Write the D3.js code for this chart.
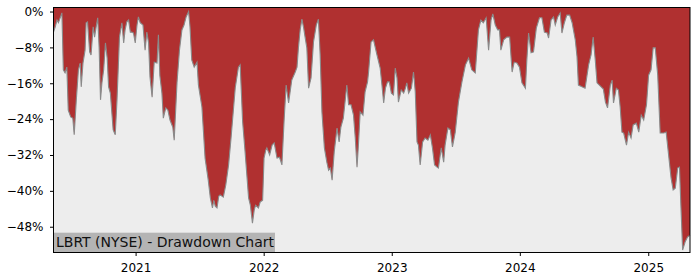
<!DOCTYPE html>
<html>
<head>
<meta charset="utf-8">
<script src="https://cdn.jsdelivr.net/npm/d3@7"></script>
<style>
  body { margin: 0; background: #fff; }
  svg { display: block; font-family: "DejaVu Sans", sans-serif; }
</style>
</head>
<body>
<svg id="chart" width="700" height="280"></svg>
<script>
// drawdown of LBRT (percent below running peak)
const dates = [
  "2020-05-12","2020-05-17","2020-05-22","2020-05-26","2020-06-01","2020-06-05","2020-06-09","2020-06-14","2020-06-19","2020-06-23",
  "2020-06-30","2020-07-06","2020-07-10","2020-07-16","2020-07-22","2020-07-27","2020-07-30","2020-08-04","2020-08-10","2020-08-13",
  "2020-08-17","2020-08-23","2020-08-27","2020-09-02","2020-09-06","2020-09-10","2020-09-15","2020-09-19","2020-09-23","2020-09-27",
  "2020-10-02","2020-10-07","2020-10-12","2020-10-16","2020-10-21","2020-10-29","2020-11-04","2020-11-09","2020-11-16","2020-11-23",
  "2020-11-28","2020-12-02","2020-12-07","2020-12-12","2020-12-17","2020-12-21","2020-12-26","2020-12-31",
  "2021-01-05","2021-01-09","2021-01-14","2021-01-22","2021-01-28","2021-02-02","2021-02-07","2021-02-11","2021-02-17","2021-02-23",
  "2021-03-03","2021-03-07","2021-03-11","2021-03-17","2021-03-21","2021-03-28","2021-04-03","2021-04-09","2021-04-17","2021-04-21",
  "2021-04-29","2021-05-06","2021-05-13","2021-05-19","2021-05-25","2021-06-01","2021-06-05","2021-06-10","2021-06-17","2021-06-25",
  "2021-06-29","2021-07-09","2021-07-18","2021-07-27","2021-08-02","2021-08-08","2021-08-12","2021-08-16","2021-08-21","2021-08-26",
  "2021-08-30","2021-09-08","2021-09-15","2021-09-23","2021-09-30","2021-10-12","2021-10-21","2021-10-26","2021-11-02","2021-11-09",
  "2021-11-19","2021-11-24","2021-11-30","2021-12-05","2021-12-09","2021-12-17","2021-12-22","2021-12-29",
  "2022-01-02","2022-01-07","2022-01-10","2022-01-18","2022-01-25","2022-01-31","2022-02-08","2022-02-15","2022-02-22","2022-02-28",
  "2022-03-06","2022-03-13","2022-03-22","2022-04-01","2022-04-06","2022-04-10","2022-04-15","2022-04-20","2022-04-25","2022-04-29",
  "2022-05-04","2022-05-09","2022-05-16","2022-05-23","2022-05-31","2022-06-06","2022-06-11","2022-06-16","2022-06-23","2022-06-30",
  "2022-07-05","2022-07-10","2022-07-15","2022-07-21","2022-07-29","2022-08-04","2022-08-09","2022-08-16","2022-08-26","2022-08-31",
  "2022-09-07","2022-09-14","2022-09-19","2022-09-24","2022-09-28","2022-10-03","2022-10-11","2022-10-17","2022-10-24","2022-10-27",
  "2022-11-03","2022-11-10","2022-11-20","2022-11-29","2022-12-04","2022-12-09","2022-12-14","2022-12-20","2022-12-25","2022-12-31",
  "2023-01-06","2023-01-11","2023-01-16","2023-01-20","2023-01-28","2023-02-04","2023-02-09","2023-02-13","2023-02-18","2023-02-26",
  "2023-03-04","2023-03-09","2023-03-14","2023-03-18","2023-03-23","2023-03-30","2023-04-06","2023-04-14","2023-04-21","2023-04-27",
  "2023-05-03","2023-05-10","2023-05-14","2023-05-22","2023-05-29","2023-06-02","2023-06-10","2023-06-17","2023-06-23","2023-07-01",
  "2023-07-10","2023-07-20","2023-07-30","2023-08-08","2023-08-17","2023-08-27","2023-09-05","2023-09-12","2023-09-19","2023-09-27",
  "2023-10-04","2023-10-11","2023-10-16","2023-10-23","2023-10-30","2023-11-04","2023-11-08","2023-11-16","2023-11-25","2023-12-03",
  "2023-12-10","2023-12-16","2023-12-24","2023-12-31",
  "2024-01-07","2024-01-17","2024-01-21","2024-01-26","2024-02-02","2024-02-09","2024-02-17","2024-02-26","2024-03-04","2024-03-11",
  "2024-03-19","2024-03-23","2024-03-30","2024-04-06","2024-04-11","2024-04-18","2024-04-25","2024-04-30","2024-05-07","2024-05-14",
  "2024-05-22","2024-05-29","2024-06-07","2024-06-12","2024-06-16","2024-06-26","2024-07-05","2024-07-15","2024-07-22","2024-07-28",
  "2024-08-03","2024-08-08","2024-08-17","2024-08-26","2024-09-01","2024-09-07","2024-09-15","2024-09-20","2024-09-24","2024-10-02",
  "2024-10-08","2024-10-13","2024-10-18","2024-10-23","2024-10-31","2024-11-06","2024-11-13","2024-11-19","2024-11-28","2024-12-05",
  "2024-12-12","2024-12-19","2024-12-27",
  "2025-01-02","2025-01-09","2025-01-15","2025-01-21","2025-01-28","2025-02-04","2025-02-14","2025-02-21","2025-02-28","2025-03-07",
  "2025-03-13","2025-03-19","2025-03-26","2025-03-31","2025-04-04","2025-04-09","2025-04-16","2025-04-23","2025-04-30"
];

const drawdown = [
  -4.6,-3.4,-1.9,-2.5,-1.2,-0.3,-13.0,-13.7,-12.4,-22.0,
  -23.5,-23.8,-27.5,-19.7,-13.0,-11.5,-16.8,-11.5,-8.6,-2.5,
  -2.3,-9.0,-9.7,-3.4,-5.7,-3.7,-1.4,-7.9,-19.7,-15.9,
  -13.0,-7.0,-10.4,-16.8,-18.2,-26.4,-27.5,-19.7,-5.7,-2.5,
  -7.0,-4.1,-2.3,-1.9,-4.6,-4.6,-4.8,-7.0,
  -3.0,-1.2,-2.5,-3.0,-8.6,-4.6,-7.0,-14.6,-19.1,-11.3,
  -11.5,-5.2,-14.2,-18.2,-23.8,-21.5,-22.0,-24.2,-25.8,-28.7,
  -15.9,-8.6,-4.1,-3.0,-1.2,0,-3.4,-10.8,-12.4,-11.3,
  -16.4,-21.3,-32.7,-37.6,-41.6,-43.8,-42.1,-43.4,-43.8,-41.2,
  -40.9,-41.4,-38.7,-34.2,-28.2,-17.0,-12.4,-11.9,-24.6,-31.3,
  -41.6,-43.2,-47.2,-44.3,-43.2,-43.8,-42.5,-42.1,
  -32.7,-30.9,-30.4,-32.0,-29.8,-29.3,-32.7,-32.5,-34.2,-24.6,
  -16.4,-20.4,-15.3,-13.5,-12.4,-8.1,-4.1,-1.7,-3.7,-5.7,
  -8.1,-17.1,-14.8,-6.8,-3.0,-1.7,-9.7,-22.4,-30.4,-33.6,
  -35.4,-34.9,-37.6,-31.3,-26.0,-29.1,-25.8,-23.8,-16.4,-20.8,
  -20.8,-23.1,-28.2,-34.7,-29.8,-22.4,-23.1,-17.9,-15.7,-13.5,
  -6.8,-6.3,-9.7,-12.6,-16.4,-20.4,-17.1,-15.7,-15.7,-18.2,
  -18.6,-12.6,-14.8,-20.2,-17.5,-18.2,-17.1,-15.9,-18.2,-17.1,
  -13.5,-17.9,-29.1,-29.8,-34.2,-29.1,-28.2,-28.7,-27.5,-30.4,
  -34.2,-34.7,-34.9,-30.4,-33.6,-29.8,-26.0,-26.4,-30.2,-26.9,
  -20.2,-15.7,-11.9,-10.4,-13.0,-13.7,-4.1,-1.9,-2.5,-1.4,
  -8.6,-1.9,-0.5,-3.0,-4.1,-4.1,-8.6,-6.3,-5.7,-5.7,
  -13.5,-11.3,-11.5,-12.4,
  -15.9,-17.1,-10.8,-4.8,-9.2,-9.0,-3.7,-1.4,-1.4,-4.6,
  -4.8,-5.9,-1.9,-1.2,-3.0,-1.2,-0.3,-4.8,-2.5,-0.8,
  -0.8,-2.5,-6.3,-10.1,-16.4,-16.8,-17.1,-11.9,-9.7,-5.7,
  -10.8,-15.9,-16.6,-17.3,-20.2,-21.5,-16.4,-15.3,-20.4,-17.1,
  -17.5,-21.3,-26.9,-27.1,-29.8,-26.9,-28.2,-25.3,-24.9,-26.9,
  -23.1,-24.2,-20.8,
  -14.2,-13.0,-8.1,-8.1,-14.2,-27.1,-27.1,-26.9,-32.0,-37.1,
  -39.8,-39.4,-34.9,-34.7,-43.2,-53.2,-51.4,-50.3,-49.9
];

const yTicks = [0, -8, -16, -24, -32, -40, -48];
const title = "LBRT (NYSE) - Drawdown Chart";

const parse = d3.timeParse("%Y-%m-%d");
const data = dates.map((d, i) => ({ date: parse(d), value: drawdown[i] }));

const svg = d3.select("#chart");
const plotLeft = 53.5, plotRight = 690, plotTop = 7.5, plotBottom = 252.5;

const x = d3.scaleTime()
  .domain(d3.extent(data, d => d.date))
  .range([plotLeft, plotRight]);

const y = d3.scaleLinear()
  .domain([-53.75, 0.9])
  .range([plotBottom, plotTop]);

// plot background is the drawdown colour, the part below the curve is grey
svg.append("rect")
  .attr("x", plotLeft).attr("y", plotTop)
  .attr("width", plotRight - plotLeft).attr("height", plotBottom - plotTop)
  .attr("fill", "#b03030");

const area = d3.area()
  .x(d => x(d.date))
  .y0(plotBottom)
  .y1(d => y(d.value));

svg.append("path")
  .datum(data)
  .attr("d", area)
  .attr("fill", "#ededed");

const line = d3.line()
  .x(d => x(d.date))
  .y(d => y(d.value));

svg.append("path")
  .datum(data)
  .attr("d", line)
  .attr("fill", "none")
  .attr("stroke", "#8a8a8a")
  .attr("stroke-width", 1.1);

// label box in the lower left corner
const label = svg.append("g");
label.append("rect")
  .attr("x", plotLeft).attr("y", 232.7)
  .attr("width", 221.5).attr("height", plotBottom - 232.7)
  .attr("fill", "#b4b4b4");
label.append("text")
  .attr("x", 56).attr("y", 247.3)
  .attr("font-size", "14px")
  .attr("fill", "#111")
  .text(title);

// axes
const fmt = d => (d < 0 ? "\u2212" : "") + Math.abs(d) + "%";

const yAxis = svg.append("g")
  .attr("transform", `translate(${plotLeft},0)`)
  .call(d3.axisLeft(y).tickValues(yTicks).tickFormat(fmt).tickSize(3.5).tickPadding(6.5));

const xAxis = svg.append("g")
  .attr("transform", `translate(0,${plotBottom})`)
  .call(d3.axisBottom(x).ticks(d3.timeYear.every(1)).tickFormat(d3.timeFormat("%Y")).tickSize(3.5).tickPadding(7));

[yAxis, xAxis].forEach(g => {
  g.select(".domain").remove();
  g.selectAll("text").attr("font-size", "12px").attr("fill", "#000").attr("font-family", "DejaVu Sans");
  g.selectAll("line").attr("stroke", "#000");
});

svg.append("rect")
  .attr("x", plotLeft).attr("y", plotTop)
  .attr("width", plotRight - plotLeft).attr("height", plotBottom - plotTop)
  .attr("fill", "none")
  .attr("stroke", "#000")
  .attr("stroke-width", 1);
</script>
</body>
</html>
